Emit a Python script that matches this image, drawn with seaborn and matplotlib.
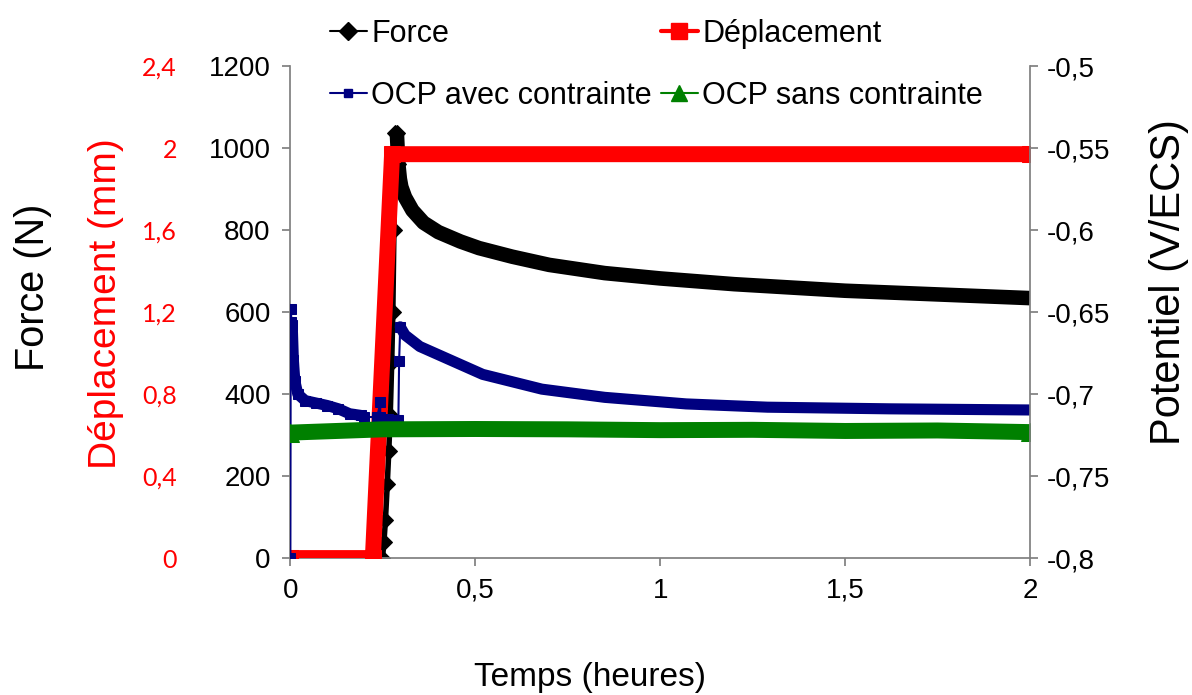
import matplotlib
matplotlib.use("Agg")
import matplotlib.pyplot as plt
from matplotlib.lines import Line2D
import pandas as pd
import seaborn as sns

# valeurs (temps en heures)
temps_force = [0, 0.249, 0.253, 0.257, 0.262, 0.266, 0.270, 0.274, 0.277, 0.280, 0.283, 0.288,
               0.292, 0.296, 0.300, 0.310, 0.330, 0.360, 0.400, 0.460, 0.510, 0.600, 0.700,
               0.850, 1.000, 1.200, 1.500, 1.750, 2.000]
force = [0, 0, 40, 93, 180, 260, 349, 478, 600, 800, 1036, 1036,
         960, 925, 905, 880, 848, 818, 795, 772, 756, 735, 715,
         695, 682, 668, 652, 643, 634]

temps_depl = [0, 0.223, 0.275, 2.0]
deplacement = [0, 0, 1.97, 1.97]

temps_ocp_avec = [0.0, 0.001, 0.003, 0.005, 0.008, 0.012, 0.020, 0.040, 0.070, 0.100, 0.130,
                  0.160, 0.190, 0.200, 0.235, 0.243, 0.243, 0.265, 0.285, 0.292, 0.294,
                  0.297, 0.310, 0.350, 0.430, 0.520, 0.680, 0.850, 1.070, 1.290, 1.620, 2.000]
ocp_avec = [-0.8, -0.648, -0.656, -0.658, -0.679, -0.692, -0.700, -0.704, -0.7055, -0.707, -0.709,
            -0.712, -0.713, -0.714, -0.714, -0.705, -0.714, -0.715, -0.716, -0.716, -0.680,
            -0.659, -0.664, -0.671, -0.679, -0.688, -0.697, -0.702, -0.706, -0.708, -0.709, -0.7097]

temps_ocp_sans = [0, 0.25, 0.5, 0.75, 1.0, 1.25, 1.5, 1.75, 2.0]
ocp_sans = [-0.7235, -0.7215, -0.7213, -0.7215, -0.722, -0.7218, -0.7225, -0.7222, -0.7232]

x_ticks = [0, 0.5, 1, 1.5, 2]
x_labels = ["0", "0,5", "1", "1,5", "2"]
force_ticks = [0, 200, 400, 600, 800, 1000, 1200]
depl_ticks = [0, 0.4, 0.8, 1.2, 1.6, 2, 2.4]
depl_labels = ["0", "0,4", "0,8", "1,2", "1,6", "2", "2,4"]
pot_ticks = [-0.8, -0.75, -0.7, -0.65, -0.6, -0.55, -0.5]
pot_labels = ["-0,8", "-0,75", "-0,7", "-0,65", "-0,6", "-0,55", "-0,5"]

sns.set_theme(style="white")
plt.rcParams['font.family'] = ['Liberation Sans', 'DejaVu Sans']
plt.rcParams['text.color'] = 'black'
plt.rcParams['axes.labelcolor'] = 'black'
plt.rcParams['xtick.color'] = 'black'
plt.rcParams['ytick.color'] = 'black'

df_f = pd.DataFrame({"t": temps_force, "F": force})
df_a = pd.DataFrame({"t": temps_ocp_avec, "V": ocp_avec})

fig = plt.figure(figsize=(11.92, 6.95), dpi=100)
ax = fig.add_axes([0.2433, 0.197, 0.6208, 0.708])
ax_d = ax.twinx()
ax_p = ax.twinx()

# Force : montée avec marqueurs, relaxation en bande épaisse
sns.lineplot(data=df_f[df_f.t <= 0.292], x="t", y="F", ax=ax, color="black", lw=4, marker="D",
             ms=8, mec="black", sort=False, estimator=None, legend=False)
sns.lineplot(data=df_f[df_f.t >= 0.288], x="t", y="F", ax=ax, color="black", lw=10.5,
             sort=False, estimator=None, legend=False, solid_capstyle="butt")

# Déplacement
sns.lineplot(x=temps_depl, y=deplacement, ax=ax_d, color="red", lw=11.5, marker="s", ms=11.5,
             mec="red", sort=False, estimator=None, legend=False, solid_capstyle="butt")

# OCP avec contrainte
sns.lineplot(data=df_a[df_a.t <= 0.297], x="t", y="V", ax=ax_p, color="#000080", lw=1.5,
             marker="s", ms=7.5, mec="#000080", sort=False, estimator=None, legend=False)
for lo, hi in [(0.005, 0.2), (0.297, 2.0)]:
    seg = df_a[(df_a.t >= lo) & (df_a.t <= hi)]
    sns.lineplot(data=seg, x="t", y="V", ax=ax_p, color="#000080", lw=8, sort=False,
                 estimator=None, legend=False)

# OCP sans contrainte
sns.lineplot(x=temps_ocp_sans, y=ocp_sans, ax=ax_p, color="#008000", lw=11.5, marker="^", ms=13,
             mec="#008000", markevery=[0, len(ocp_sans) - 1], sort=False, estimator=None,
             legend=False, solid_capstyle="butt")

# axes
ax.set_xlim(-0.001, 2.0)
ax.set_ylim(0, 1200)
ax_d.set_ylim(0, 2.4)
ax_p.set_ylim(-0.8, -0.5)

ax.set_xticks(x_ticks, x_labels)
ax.set_yticks(force_ticks, [str(v) for v in force_ticks])
ax_d.set_yticks(depl_ticks, depl_labels)
ax_p.set_yticks(pot_ticks, pot_labels)

for a in (ax, ax_d, ax_p):
    for s in a.spines.values():
        s.set_visible(False)
for side in ("left", "bottom"):
    ax.spines[side].set_visible(True)
    ax.spines[side].set_color("#808080")
ax_p.spines["right"].set_visible(True)
ax_p.spines["right"].set_color("#808080")

ax.tick_params(axis="both", direction="out", length=6, color="#808080", labelsize=20,
               labelcolor="black", left=True, bottom=True, pad=8)
ax_p.tick_params(axis="y", direction="out", length=6, color="#808080", labelsize=20,
                 labelcolor="black", right=True, pad=6)

ax_d.yaxis.tick_left()
ax_d.spines["left"].set_position(("axes", -0.147))
ax_d.tick_params(axis="y", length=0, pad=3, labelsize=18, labelcolor="red")
for lab in ax_d.get_yticklabels():
    lab.set_family(["Lato", "DejaVu Sans"])

ax.set_xlabel("")
ax.set_ylabel("")
ax_d.set_ylabel("")
ax_p.set_ylabel("")

fig.text(0.495, 0.003, "Temps (heures)", fontsize=24, ha="center", va="bottom")
fig.text(0.028, 0.586, "Force (N)", fontsize=28.5, rotation=90, ha="center", va="center")
fig.text(0.089, 0.563, "Déplacement (mm)", fontsize=28, rotation=90, ha="center",
         va="center", color="red")
fig.text(0.981, 0.594, "Potentiel (V/ECS)", fontsize=30, rotation=90, ha="center",
         va="center")

handles = [
    Line2D([], [], color="black", lw=1.5, marker="D", ms=9),
    Line2D([], [], color="red", lw=3, marker="s", ms=12),
    Line2D([], [], color="#000080", lw=1.5, marker="s", ms=6),
    Line2D([], [], color="#008000", lw=1.5, marker="^", ms=11),
]
labels = ["Force", "Déplacement", "OCP avec contrainte", "OCP sans contrainte"]
order = [0, 2, 1, 3]
fig.legend([handles[i] for i in order], [labels[i] for i in order], ncol=2,
           loc="upper left", bbox_to_anchor=(0.259, 1.004), frameon=False, fontsize=22,
           handlelength=1.2, handletextpad=0.15, columnspacing=0.3, labelspacing=1.05,
           borderpad=0.2)

fig.savefig("out.png", dpi=100)
